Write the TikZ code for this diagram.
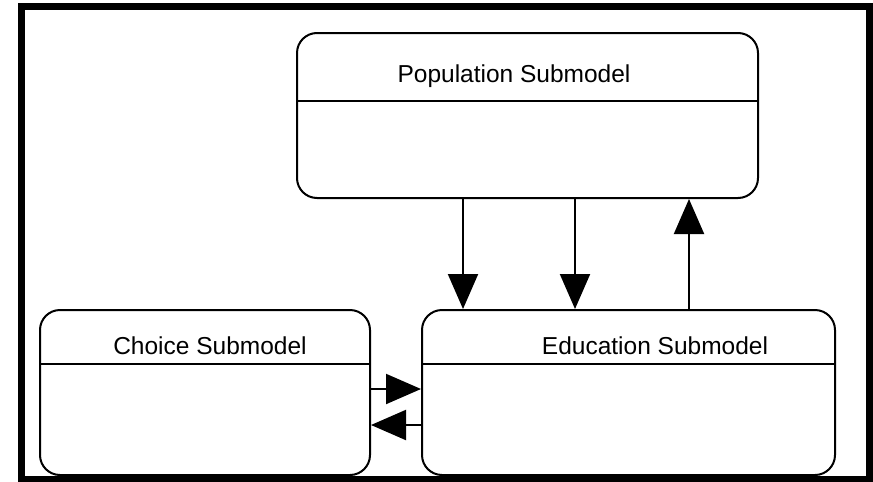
\documentclass[tikz,border=0pt]{standalone}
\usepackage{fontspec}
\setmainfont{Liberation Sans}
\usetikzlibrary{arrows.meta}
\begin{document}
\begin{tikzpicture}[x=1pt,y=-1pt,
  submodel/.style={draw=black,line width=2pt,rounded corners=20pt,fill=white,inner sep=0pt,minimum height=165pt},
  divline/.style={draw=black,line width=2pt},
  lbl/.style={font=\fontsize{24.5}{28}\selectfont,anchor=base,inner sep=0pt},
  flow/.style={draw=black,line width=2pt,-{Triangle[length=35pt,width=30pt]}},
  frame/.style={draw=black,line width=7pt}]
\useasboundingbox (0,0) rectangle (873,482);
\fill[white] (0,0) rectangle (873,482);
\draw[frame] (21,6) rectangle (869,479);
% boxes
\node[submodel,minimum width=461pt] (pop) at (527.5,115.5) {};
\node[submodel,minimum width=330pt] (choice) at (205,392.5) {};
\node[submodel,minimum width=413pt] (edu) at (628.5,392.5) {};
% dividers
\coordinate (dp) at (0,101);
\coordinate (dl) at (0,364);
\draw[divline] (pop.west |- dp) -- (pop.east |- dp);
\draw[divline] (choice.west |- dl) -- (choice.east |- dl);
\draw[divline] (edu.west |- dl) -- (edu.east |- dl);
% labels
\node[lbl] (poplbl) at (514,82) {Population Submodel};
\node[lbl] (choicelbl) at (210,354) {Choice Submodel};
\node[lbl] (edulbl) at (655,354) {Education Submodel};
% vertical arrows
\coordinate (v1) at (463,0);
\coordinate (v2) at (575,0);
\coordinate (v3) at (689,0);
\draw[flow] (pop.south -| v1) -- (edu.north -| v1);
\draw[flow] (pop.south -| v2) -- (edu.north -| v2);
\draw[flow] (edu.north -| v3) -- (pop.south -| v3);
% horizontal arrows
\coordinate (h1) at (0,389);
\coordinate (h2) at (0,425);
\draw[flow] (choice.east |- h1) -- (edu.west |- h1);
\draw[flow] (edu.west |- h2) -- (choice.east |- h2);
\end{tikzpicture}
\end{document}
